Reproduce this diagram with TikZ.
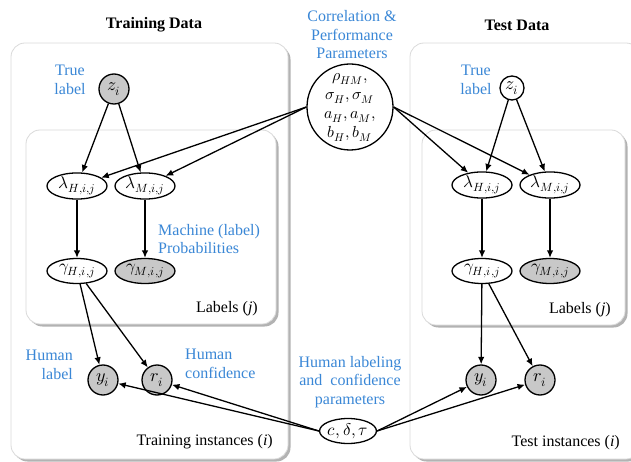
\documentclass[tikz,border=0pt]{standalone}
\usepackage{fontspec}
\usepackage{unicode-math}
\setmainfont{Liberation Serif}
\setmathfont{Latin Modern Math}
\usetikzlibrary{shapes.geometric,arrows.meta,shadows}
\definecolor{lblue}{RGB}{58,135,214}
\definecolor{ngray}{RGB}{200,200,200}
\definecolor{bordergray}{RGB}{218,218,218}
\begin{document}
\begin{tikzpicture}[x=1pt,y=-1pt,
 plate/.style={draw=bordergray, line width=0.8pt, fill=white, rounded corners=14pt,
   drop shadow={shadow xshift=2.5pt,shadow yshift=-2.5pt,fill=black!50,opacity=0.6}},
 var/.style={draw, line width=1.3pt, fill=white, ellipse, minimum width=60pt, minimum height=25pt, inner sep=0pt, font=\fontsize{17}{20}\selectfont},
 cvar/.style={draw, line width=1.3pt, fill=white, circle, minimum size=30pt, inner sep=0pt, font=\fontsize{18}{21}\selectfont},
 obs/.style={fill=ngray},
 lab/.style={text=lblue, font=\fontsize{16}{18.5}\selectfont, inner sep=0pt},
 ttl/.style={font=\bfseries\fontsize{16}{18}\selectfont, inner sep=0pt},
 txt/.style={font=\fontsize{16}{18}\selectfont, inner sep=0pt},
 arr/.style={-{Latex[length=7.5pt,width=6.5pt]}, line width=1.3pt}
]
\useasboundingbox (0,0) rectangle (631,462);
% plates
\draw[plate] (11,43) rectangle (288,459);
\draw[plate] (410,43) rectangle (640,459);
\draw[plate] (26,130) rectangle (276,324);
\draw[plate] (422,130) rectangle (625,325);

% titles and labels
\node[ttl] (ttrain) at (154,25) {Training Data};
\node[ttl] (ttest) at (517,25) {Test Data};
\node[lab, align=center] (lcorr) at (352,35) {Correlation \&\\Performance\\Parameters};
\node[lab, align=center] (ltrueL) at (70,80) {True\\label};
\node[lab, align=center] (ltrueR) at (476,80) {True\\label};
\node[lab, align=left, anchor=west] (lmach) at (158,239) {Machine (label)\\Probabilities};
\node[lab, align=right, anchor=east] (lhuml) at (73,365) {Human\\label};
\node[lab, align=left, anchor=west] (lhumc) at (185,364) {Human\\confidence};
\node[lab, align=center] (lhlcp) at (350,382) {Human labeling\\and~~confidence\\parameters};
\node[txt, anchor=east] (labL) at (258,309) {Labels (\textit{j})};
\node[txt, anchor=east] (labR) at (611,310) {Labels (\textit{j})};
\node[txt, anchor=east] (instL) at (273,442) {Training instances (\textit{i})};
\node[txt, anchor=east] (instR) at (620,443) {Test instances (\textit{i})};

% training nodes
\node[cvar, obs] (zL) at (114,89) {$z_i$};
\node[var] (lHL) at (77,186) {$\lambda_{H,i,j}$};
\node[var] (lML) at (145,186) {$\lambda_{M,i,j}$};
\node[var] (gHL) at (77,271) {$\gamma_{H,i,j}$};
\node[var, obs] (gML) at (145,271) {$\gamma_{M,i,j}$};
\node[cvar, obs] (yL) at (103,380) {$y_i$};
\node[cvar, obs] (rL) at (157,380) {$r_i$};

% shared
\node[cvar, minimum size=86pt, align=center, font=\fontsize{16}{19}\selectfont] (par) at (350,107)
  {$\rho_{HM},$\\$\sigma_H,\sigma_M$\\$a_H,a_M,$\\$b_H,b_M$};
\node[var, minimum width=56pt] (cdt) at (348,431) {$c,\delta,\tau$};

% test nodes
\node[cvar, minimum size=24pt] (zR) at (512,88) {$z_i$};
\node[var] (lHR) at (482,185) {$\lambda_{H,i,j}$};
\node[var] (lMR) at (550,185) {$\lambda_{M,i,j}$};
\node[var] (gHR) at (482,271) {$\gamma_{H,i,j}$};
\node[var, obs] (gMR) at (550,271) {$\gamma_{M,i,j}$};
\node[cvar, obs] (yR) at (481,380) {$y_i$};
\node[cvar, obs] (rR) at (540,380) {$r_i$};

% edges
\draw[arr] (zL) -- (lHL);
\draw[arr] (zL) -- (lML);
\draw[arr] (zR) -- (lHR);
\draw[arr] (zR) -- (lMR);
\draw[arr] (par.west) -- (lHL);
\draw[arr] (par.west) -- (lML);
\draw[arr] (par.east) -- (lHR);
\draw[arr] (par.east) -- (lMR);
\draw[arr] (lHL) -- (gHL);
\draw[arr] (lML) -- (gML);
\draw[arr] (lHR) -- (gHR);
\draw[arr] (lMR) -- (gMR);
\draw[arr] (gHL) -- (yL);
\draw[arr] (gHL) -- (rL);
\draw[arr] (gHR) -- (yR);
\draw[arr] (gHR) -- (rR);
\draw[arr] (cdt.west) -- (yL);
\draw[arr] (cdt.west) -- (rL);
\draw[arr] (cdt.east) -- (yR);
\draw[arr] (cdt.east) -- (rR);
\end{tikzpicture}
\end{document}
